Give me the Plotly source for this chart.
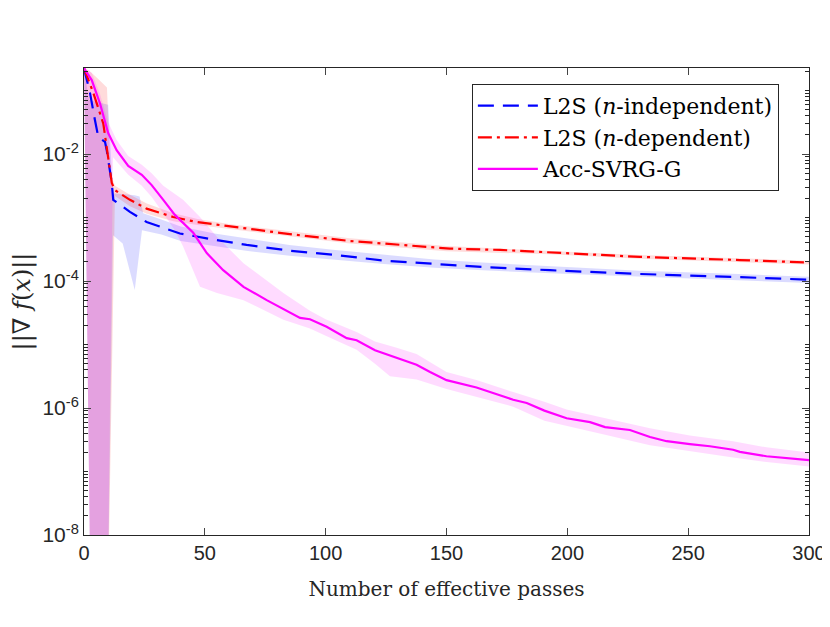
import plotly.graph_objects as go

# L2S (n-independent)
x_ind = [0, 2.5, 4.5, 5.9, 8.7, 9.4, 11.5, 12.1, 19, 25.9, 31.4, 39.7, 53.5, 67.3, 85.2,
         103.1, 123.8, 144.5, 165.2, 192.8, 230, 271.4, 300]
y_ind = [0.224, 9.1e-2, 3.47e-2, 1.86e-2, 1.55e-2, 1.15e-2, 3.5e-3, 1.9e-3, 1.23e-3, 8.5e-4,
         7.2e-4, 5.6e-4, 4.5e-4, 3.7e-4, 3.0e-4, 2.6e-4, 2.1e-4, 1.86e-4, 1.66e-4, 1.48e-4,
         1.29e-4, 1.15e-4, 1.05e-4]
ind_hi_x = [0, 2, 10, 12, 16, 21, 23, 24.5, 32, 40, 54, 67, 85, 103, 124, 145, 165, 193, 230, 271, 300]
ind_hi = [0.224, 7.1e-2, 6.0e-2, 2.4e-3, 2.34e-3, 2.24e-3, 2.14e-3, 1.17e-3, 9.3e-4, 7.2e-4,
          5.6e-4, 4.7e-4, 3.7e-4, 3.1e-4, 2.57e-4, 2.19e-4, 1.95e-4, 1.7e-4, 1.45e-4, 1.29e-4, 1.17e-4]
ind_lo_x = [0, 3, 9.5, 12, 16, 21, 24, 32, 40, 54, 67, 85, 103, 124, 145, 165, 193, 230, 271, 300]
ind_lo = [0.224, 1e-10, 1e-10, 5.25e-4, 3.9e-4, 7.2e-5, 6.3e-4, 5.4e-4, 4.27e-4, 3.55e-4,
          3.0e-4, 2.5e-4, 2.19e-4, 1.86e-4, 1.62e-4, 1.48e-4, 1.32e-4, 1.15e-4, 1.02e-4, 9.3e-5]

# L2S (n-dependent)
x_dep = [0, 3.9, 8, 10, 11.5, 12.8, 19, 25.9, 36.9, 46.6, 60.4, 81, 89.4, 110, 130.7, 151.4,
         172.1, 192.8, 230, 271.4, 300]
y_dep = [0.224, 9.1e-2, 3.0e-2, 9.1e-3, 3.5e-3, 2.7e-3, 1.9e-3, 1.38e-3, 1.02e-3, 8.5e-4,
         7.2e-4, 5.75e-4, 5.25e-4, 4.27e-4, 3.72e-4, 3.24e-4, 3.09e-4, 2.82e-4, 2.4e-4, 2.14e-4, 1.95e-4]
dep_hi_x = [0, 2, 6, 9.5, 11, 12.8, 19, 26, 37, 47, 60, 81, 110, 150, 193, 230, 271, 300]
dep_hi = [0.224, 0.209, 0.151, 0.112, 5.0e-3, 3.16e-3, 2.29e-3, 1.66e-3, 1.17e-3, 9.5e-4,
          7.9e-4, 6.3e-4, 4.7e-4, 3.55e-4, 3.0e-4, 2.57e-4, 2.29e-4, 2.09e-4]
dep_lo_x = [0, 3, 9.5, 12.8, 19, 26, 37, 47, 60, 81, 110, 150, 193, 230, 271, 300]
dep_lo = [0.224, 1e-10, 1e-10, 2.19e-3, 1.51e-3, 1.15e-3, 8.7e-4, 7.6e-4, 6.6e-4, 5.25e-4,
          3.9e-4, 2.95e-4, 2.63e-4, 2.24e-4, 2.0e-4, 1.82e-4]

# Acc-SVRG-G
x_acc = [0, 3.2, 6.6, 10, 13.5, 18.3, 23.9, 28, 32.8, 37.6, 45.2, 50.8, 57.6, 66, 75.6, 81,
         89.4, 93.5, 100.4, 108.7, 112.8, 120.4, 129.4, 137.6, 143.2, 150, 162.4, 169.3, 177.6,
         183.2, 190.5, 199.7, 209.4, 215.6, 225.9, 234.2, 241.1, 250.7, 259, 268.6, 271.4,
         282.4, 290.7, 300]
y_acc = [0.224, 1.46e-1, 6.3e-2, 2.14e-2, 1.15e-2, 6.5e-3, 4.7e-3, 3.24e-3, 1.9e-3, 1.1e-3,
         5.75e-4, 2.75e-4, 1.48e-4, 8.1e-5, 5.0e-5, 3.9e-5, 2.63e-5, 2.5e-5, 1.9e-5, 1.26e-5,
         1.17e-5, 8.1e-6, 6.2e-6, 4.8e-6, 3.7e-6, 2.75e-6, 2.1e-6, 1.74e-6, 1.35e-6, 1.2e-6,
         9.1e-7, 6.9e-7, 6.0e-7, 5.0e-7, 4.5e-7, 3.5e-7, 3.0e-7, 2.7e-7, 2.5e-7, 2.2e-7,
         2.04e-7, 1.74e-7, 1.62e-7, 1.51e-7]
acc_hi_x = [0, 3.2, 6.6, 10, 13.5, 18.3, 23.9, 28, 32.8, 41, 48, 55, 66, 82.5, 93.5, 100,
            112.8, 120.4, 129.4, 137.6, 150, 162.4, 177.6, 190.5, 199.7, 215.6, 234.2, 250.7,
            268.6, 282.4, 300]
acc_hi = [0.224, 0.19, 8.9e-2, 3.16e-2, 1.66e-2, 9.3e-3, 6.8e-3, 5.0e-3, 3.16e-3, 1.9e-3,
          1.02e-3, 5.0e-4, 1.9e-4, 6.5e-5, 3.4e-5, 2.5e-5, 1.58e-5, 1.12e-5, 8.9e-6, 7.1e-6,
          3.7e-6, 2.75e-6, 1.78e-6, 1.26e-6, 9.5e-7, 6.9e-7, 4.8e-7, 3.7e-7, 3.0e-7, 2.4e-7, 2.0e-7]
acc_lo_x = [0, 3, 9.5, 12, 18.3, 23.9, 28, 32.8, 37.6, 41, 48, 55, 66, 71.5, 82.5, 93.5, 100,
            112.8, 120.4, 126.6, 137.6, 150, 162.4, 177.6, 190.5, 199.7, 215.6, 234.2, 250.7,
            268.6, 282.4, 300]
acc_lo = [0.224, 1e-10, 1e-10, 8.9e-3, 4.7e-3, 3.16e-3, 2.1e-3, 1.17e-3, 6.3e-4, 3.5e-4,
          8.1e-5, 6.5e-5, 5.0e-5, 4.0e-5, 2.45e-5, 1.78e-5, 1.38e-5, 8.3e-6, 5.0e-6, 3.16e-6,
          2.8e-6, 2.0e-6, 1.51e-6, 1.05e-6, 6.3e-7, 5.2e-7, 3.8e-7, 2.6e-7, 2.1e-7, 1.66e-7,
          1.41e-7, 1.2e-7]

x_ticks = [0, 50, 100, 150, 200, 250, 300]
y_ticks = [1e-8, 1e-6, 1e-4, 1e-2]
y_ticktext = ["10<sup>-8</sup>", "10<sup>-6</sup>", "10<sup>-4</sup>", "10<sup>-2</sup>"]

serif = "DejaVu Serif, Liberation Serif, serif"
sans = "Liberation Sans, Arial, sans-serif"

fig = go.Figure()

# bandas (media +- desviacion)
bands = [(ind_hi_x, ind_hi, ind_lo_x, ind_lo, "rgba(0,0,255,0.14)"),
         (dep_hi_x, dep_hi, dep_lo_x, dep_lo, "rgba(255,0,0,0.14)"),
         (acc_hi_x, acc_hi, acc_lo_x, acc_lo, "rgba(255,0,255,0.14)")]
for hx, hy, lx, ly, col in bands:
    fig.add_trace(go.Scatter(x=hx + lx[::-1], y=hy + ly[::-1], fill="toself",
                             fillcolor=col, line=dict(width=0), mode="lines",
                             showlegend=False, hoverinfo="skip"))

fig.add_trace(go.Scatter(x=x_ind, y=y_ind, mode="lines", name="L2S (<i>n</i>-independent)",
                         line=dict(color="#0000ff", width=2.2, dash="16px,9px")))
fig.add_trace(go.Scatter(x=x_dep, y=y_dep, mode="lines", name="L2S (<i>n</i>-dependent)",
                         line=dict(color="#ff0000", width=2.2, dash="14px,5px,3px,5px")))
fig.add_trace(go.Scatter(x=x_acc, y=y_acc, mode="lines", name="Acc-SVRG-G",
                         line=dict(color="#ff00ff", width=2.2)))

# la pagina tiene 8px de margen en el body, por eso se descuentan aqui
fig.update_layout(
    width=830, height=627,
    margin=dict(l=76, r=29, t=60, b=100),
    plot_bgcolor="white", paper_bgcolor="white",
    legend=dict(x=0.535, y=0.966, xanchor="left", yanchor="top",
                bgcolor="white", bordercolor="#262626", borderwidth=1,
                font=dict(family=serif, size=22, color="black"),
                itemwidth=60, tracegroupgap=0),
)
fig.update_xaxes(range=[0, 300], tickvals=x_ticks, ticks="inside", ticklen=7,
                 showline=True, linecolor="#262626", linewidth=1, mirror="ticks",
                 showgrid=False, zeroline=False, automargin=False,
                 tickfont=dict(family=sans, size=20, color="#262626"),
                 title=dict(text="Number of effective passes", standoff=18,
                            font=dict(family=serif, size=20, color="#262626")))
minor_vals = [m * 10.0 ** e for e in range(-8, 0) for m in range(2, 10)]
fig.update_yaxes(type="log", range=[-8, -0.645], tickvals=y_ticks, ticktext=y_ticktext,
                 ticks="inside", ticklen=7,
                 minor=dict(tickmode="array", tickvals=minor_vals + [1e-7, 1e-5, 1e-3, 1e-1],
                            ticks="inside", ticklen=4, tickcolor="#262626", showgrid=False),
                 showline=True, linecolor="#262626", linewidth=1, mirror="ticks",
                 showgrid=False, zeroline=False, automargin=False,
                 tickfont=dict(family=sans, size=21, color="#262626"),
                 title=dict(text="||∇ <i>f</i>(<i>x</i>)||", standoff=26,
                            font=dict(family=serif, size=24, color="#262626")))

fig.write_html("out.html")
